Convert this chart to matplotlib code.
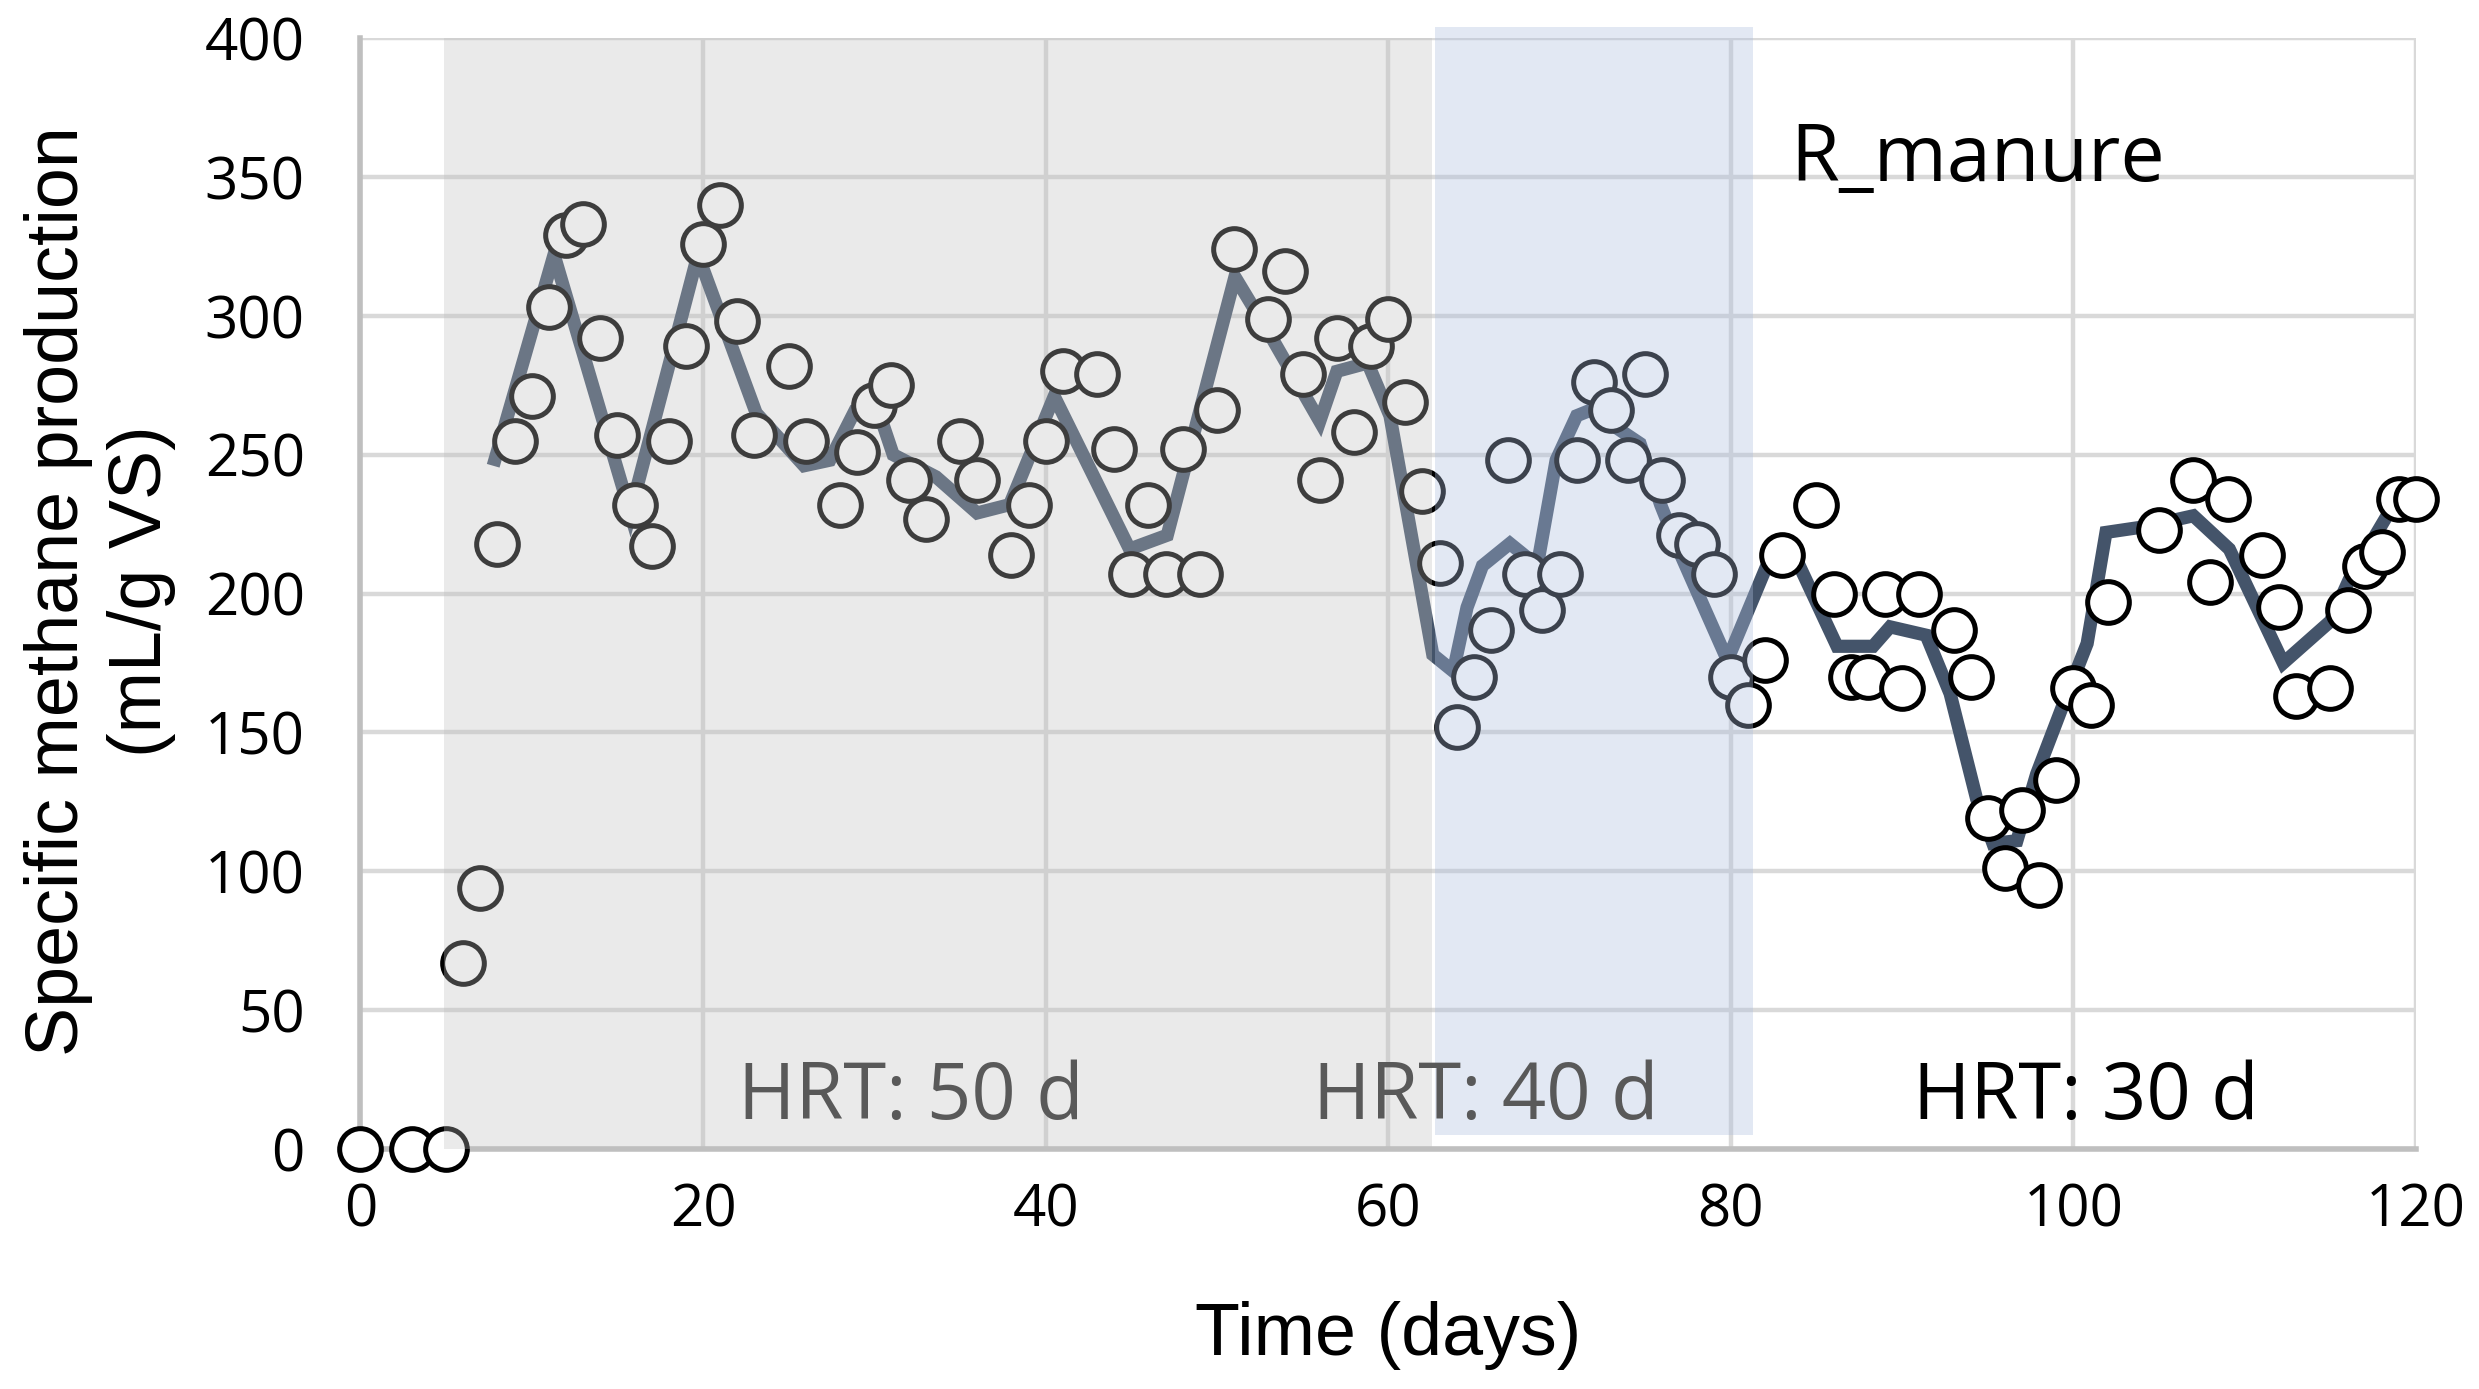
import matplotlib
matplotlib.use("Agg")
import matplotlib.pyplot as plt
from matplotlib.patches import Rectangle

# ---- data ----
days = [0, 3, 5, 6, 7, 8, 9, 10, 11, 12, 13, 14, 15, 16, 17, 18, 19, 20, 21, 22, 23,
        25, 26, 28, 29, 30, 31, 32, 33, 35, 36, 38, 39, 40, 41, 43, 44, 45, 46, 47, 48,
        49, 50, 51, 53, 54, 55, 56, 57, 58, 59, 60, 61, 62, 63, 64, 65, 66, 67, 68, 69,
        70, 71, 72, 73, 74, 75, 76, 77, 78, 79, 80, 81, 82, 83, 85, 86, 87, 88, 89, 90,
        91, 93, 94, 95, 96, 97, 98, 99, 100, 101, 102, 105, 107, 108, 109, 111, 112, 113,
        115, 116, 117, 118, 119, 120]
smp = [0, 0, 0, 67, 94, 218, 255, 271, 303, 329, 333, 292, 257, 232, 217, 255, 289, 326, 340, 298, 257,
       282, 255, 232, 251, 268, 275, 241, 227, 255, 241, 214, 232, 255, 280, 279, 252, 207, 232, 207, 252,
       207, 266, 324, 299, 316, 279, 241, 292, 258, 289, 299, 269, 237, 211, 152, 170, 187, 248, 207, 194,
       207, 248, 276, 266, 248, 279, 241, 221, 218, 207, 170, 160, 176, 214, 232, 200, 170, 170, 200, 166,
       200, 187, 170, 119, 101, 122, 95, 133, 166, 160, 197, 223, 241, 204, 234, 214, 195, 163,
       166, 194, 210, 215, 234, 234]

trend_days = [7.75, 11.3, 15.75, 19.7, 23.1, 25.9, 27.4, 28.8, 30.5, 31.1, 33.6, 36.0, 37.9,
              40.5, 44.9, 47.1, 51.05, 53.3, 56.0, 57.0, 58.8, 60.1, 62.6, 63.8, 64.6, 65.5,
              67.1, 68.7, 69.8, 71.0, 71.8, 74.7, 75.9, 77.0, 79.8, 82.1, 84.0, 86.2, 88.3,
              89.3, 91.4, 92.8, 94.35, 95.3, 96.7, 97.85, 99.4, 100.8, 101.9, 104.1, 107.0,
              109.1, 112.25, 115.0, 116.1, 118.5]
trend_vals = [246, 322, 229, 322, 265, 246, 248, 265, 261, 250, 242, 229, 232,
              271, 216, 221, 314, 291, 262, 280, 283, 264, 178, 172, 195, 210,
              218, 210, 248, 264, 266, 254, 232, 215, 176, 210, 210, 181, 181,
              188, 185, 164, 126, 110, 111, 135, 160, 182, 222, 224, 228,
              216, 175, 190, 205, 230]

x_ticks = [0, 20, 40, 60, 80, 100, 120]
y_ticks = [0, 50, 100, 150, 200, 250, 300, 350, 400]

phases = ["HRT: 50 d", "HRT: 40 d", "HRT: 30 d"]
phase_text_x = [32.1, 65.7, 100.7]
phase_colors = ["#595959", "#595959", "#000000"]

# ---- figure ----
fig = plt.figure(figsize=(24.79, 13.89), dpi=100)
ax = fig.add_axes([0.1454, 0.1728, 0.9746 - 0.1454, 0.9726 - 0.1728])
ax.set_xlim(0, 120)
ax.set_ylim(0, 400)
ax.set_xticks(x_ticks)
ax.set_yticks(y_ticks)

ax.grid(True, color="#d9d9d9", linewidth=3.2, zorder=0)
ax.set_axisbelow(True)
for s in ["top", "right"]:
    ax.spines[s].set_visible(False)
for s in ["left", "bottom"]:
    ax.spines[s].set_color("#bfbfbf")
    ax.spines[s].set_linewidth(4.0)
    ax.spines[s].set_zorder(1)

ax.tick_params(axis="both", length=0, labelsize=42, colors="black")
ax.tick_params(axis="y", pad=40)
ax.tick_params(axis="x", pad=24)
for lab in ax.get_xticklabels() + ax.get_yticklabels():
    lab.set_family("Open Sans")

# trend line
ax.plot(trend_days, trend_vals, color="#44546A", linewidth=9.5, zorder=3,
        solid_joinstyle="miter", solid_capstyle="butt")
# points
ax.plot(days, smp, linestyle="none", marker="o", markersize=30,
        markerfacecolor="white", markeredgecolor="black", markeredgewidth=3.6,
        zorder=4, clip_on=False)

# phase shading (semi-transparent overlays)
ax.add_patch(Rectangle((4.85, 0), 62.55 - 4.85, 400, facecolor="#bfbfbf",
                       alpha=0.32, edgecolor="none", zorder=5))
ax.add_patch(Rectangle((62.75, 5), 81.3 - 62.75, 399, facecolor="#adbedd",
                       alpha=0.354, edgecolor="none", zorder=5, clip_on=False))

for t, xx, c in zip(phases, phase_text_x, phase_colors):
    ax.text(xx, 18, t, ha="center", va="center", fontsize=56, color=c,
            family="Open Sans", zorder=6)

ax.text(83.45, 356, "R_manure", ha="left", va="center", fontsize=57,
        color="black", family="Open Sans", zorder=6)

ax.set_ylabel("Specific methane production\n(mL/g VS)", fontsize=53,
              family="Liberation Sans", linespacing=1.25, color="black")
ax.yaxis.label.set_va("center")
ax.yaxis.set_label_coords(-0.1267, 0.502)
ax.set_xlabel("Time (days)", fontsize=53, family="Liberation Sans", color="black")
ax.xaxis.set_label_coords(0.5, (1149 - 1336) / 1111.0)
ax.xaxis.label.set_va("center")

fig.savefig("out.png", dpi=100)
